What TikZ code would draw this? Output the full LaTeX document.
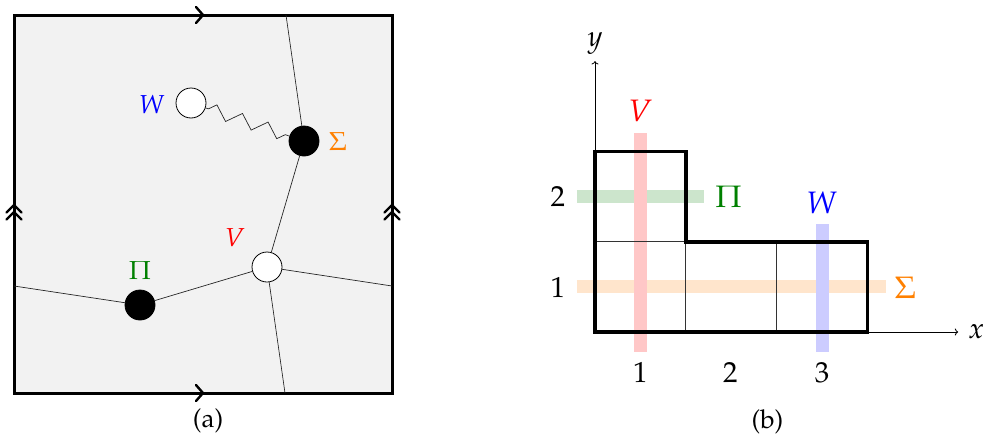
\documentclass[tikz,border=0pt]{standalone}
\usepackage[T1]{fontenc}
\usepackage{mathpazo}
\usetikzlibrary{arrows.meta,decorations.pathmorphing}
\tikzset{
  lab/.style={inner sep=0pt, font=\fontsize{26}{30}\selectfont},
  midlab/.style={inner sep=0pt, font=\fontsize{29}{34}\selectfont},
  biglab/.style={inner sep=0pt, font=\fontsize{31}{36}\selectfont},
  blackdot/.style={circle, fill=black, draw=black, line width=0.8pt, minimum size=30pt, inner sep=0pt},
  whitedot/.style={circle, fill=white, draw=black, line width=0.8pt, minimum size=30pt, inner sep=0pt},
  edge/.style={line width=0.7pt, black!85},
  chev/.style={line width=2.4pt, line cap=round, line join=round},
  thickbox/.style={line width=3.6pt, line join=miter},
  thinline/.style={line width=0.8pt, black!80},
  band/.style={line width=13pt, line cap=butt},
}
\begin{document}
\begin{tikzpicture}[x=1pt, y=-1pt]
\useasboundingbox (0,0) rectangle (983,434);
% ---------- panel (a) ----------
\coordinate (TL) at (14,15);
\coordinate (TR) at (392,15);
\coordinate (BR) at (392,393);
\coordinate (BL) at (14,393);
\fill[black!5] (TL) rectangle (BR);
\draw[line width=3pt] (TL) -- (TR) -- (BR) -- (BL) -- cycle;
% direction marks
\coordinate (mt) at (203,15);
\coordinate (mb) at (203,393);
\draw[chev] ([shift={(-7,-8)}]mt) -- (mt) -- ([shift={(-7,8)}]mt);
\draw[chev] ([shift={(-7,-8)}]mb) -- (mb) -- ([shift={(-7,8)}]mb);
\coordinate (ml1) at (14,205);
\coordinate (ml2) at (14,212);
\coordinate (mr1) at (392,205);
\coordinate (mr2) at (392,212);
\foreach \m in {ml1,ml2,mr1,mr2}{
  \draw[chev] ([shift={(-7.5,7.5)}]\m) -- (\m) -- ([shift={(7.5,7.5)}]\m);
}

\coordinate (ctop) at (286,15);
\coordinate (cright) at (392,286);
\coordinate (cbot) at (285,393);
\coordinate (cleft) at (14,286);

\node[whitedot] (W) at (191,103) {};
\node[blackdot] (S) at (304,141) {};
\node[whitedot] (V) at (267,267) {};
\node[blackdot] (P) at (140,305) {};

\draw[edge] (ctop) -- (S);
\draw[edge] (S) -- (V);
\draw[edge] (V) -- (cright);
\draw[edge] (V) -- (cbot);
\draw[edge] (P) -- (cleft);
\draw[edge] (P) -- (V);
\draw[edge, decorate, decoration={zigzag, segment length=27pt, amplitude=6.5pt, pre length=3pt, post length=3pt}] (W) -- (S);

\node[lab, text=blue] (Wl) at (152,104) {$W$};
\node[lab, text=orange] (Sl) at (338,142) {$\Sigma$};
\node[lab, text=red] (Vl) at (235,238) {$V$};
\node[lab, text=green!50!black] (Pl) at (140,271) {$\Pi$};
\node[lab] (capa) at (208,421) {(a)};

% ---------- panel (b) ----------
\begin{scope}[shift={(595pt,-332pt)}, x=90.8pt, y=90.3pt]
  \draw[band, orange!20] (-0.2,0.5) -- (3.2,0.5);
  \draw[band, green!50!black!20] (-0.2,1.5) -- (1.2,1.5);
  \draw[band, red!22] (0.5,-0.22) -- (0.5,2.2);
  \draw[band, blue!20] (2.5,-0.22) -- (2.5,1.2);

  \coordinate (O) at (0,0);
  \coordinate (xend) at (4,0);
  \coordinate (yend) at (0,3);
  \draw[thinline, black, ->] (O) -- (xend);
  \draw[thinline, black, ->] (O) -- (yend);
  \node[midlab] (xl) at (4.2,0) {$x$};
  \node[midlab] (yl) at (0,3.2) {$y$};

  \draw[thinline] (0,1) -- (1,1);
  \draw[thinline] (1,0) -- (1,1);
  \draw[thinline] (2,0) -- (2,1);
  \draw[thickbox] (0,0) -- (3,0) -- (3,1) -- (1,1) -- (1,2) -- (0,2) -- cycle;

  \node[biglab, text=red] (Vb) at (0.5,2.45) {$V$};
  \node[biglab, text=green!50!black] (Pb) at (1.47,1.5) {$\Pi$};
  \node[biglab, text=blue] (Wb) at (2.5,1.43) {$W$};
  \node[biglab, text=orange] (Sb) at (3.42,0.49) {$\Sigma$};

  \node[midlab] (y2) at (-0.41,1.50) {2};
  \node[midlab] (y1) at (-0.41,0.49) {1};
  \node[midlab] (x1) at (0.5,-0.45) {1};
  \node[midlab] (x2) at (1.49,-0.45) {2};
  \node[midlab] (x3) at (2.5,-0.45) {3};
  \node[lab] (capb) at (1.9,-0.99) {(b)};
\end{scope}
\end{tikzpicture}
\end{document}
